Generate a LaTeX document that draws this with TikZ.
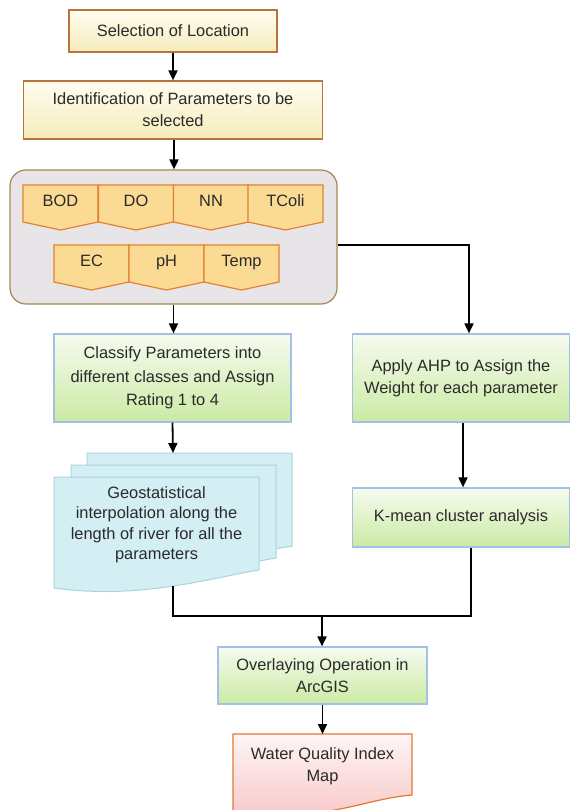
\documentclass[tikz,border=0pt]{standalone}
\usepackage{fontspec}
\setmainfont{Liberation Sans}
\usetikzlibrary{arrows.meta,calc}
\definecolor{txt}{HTML}{2A2A2A}
\definecolor{ybord}{HTML}{B8743A}
\definecolor{ytop}{HTML}{FFFDF0}
\definecolor{ybot}{HTML}{F5ECBC}
\definecolor{tfill}{HTML}{FBDB94}
\definecolor{tbord}{HTML}{E2822E}
\definecolor{grayfill}{HTML}{E7E5E8}
\definecolor{graybord}{HTML}{A5894F}
\definecolor{gtop}{HTML}{F6FBEF}
\definecolor{gbot}{HTML}{CBEAA4}
\definecolor{gbord}{HTML}{A4C0E4}
\definecolor{docfill}{HTML}{D3EFF3}
\definecolor{docbord}{HTML}{A9D4DE}
\definecolor{ptop}{HTML}{FFF5F5}
\definecolor{pbot}{HTML}{F8C9C9}
\definecolor{pbord}{HTML}{E07A35}
\newcommand\paramtag[4]{%
  \draw[tagshape] (#2,#3) -- ++(75,0) -- ++(0,37) -- ++(-37.5,8) -- ++(-37.5,-8) -- cycle;
  \node[tagtext] (#1) at (#2+37.5,#3+17) {#4};}
\newcommand\docsheet[2]{%
  \draw[docshape] (#1,#2) -- (#1+205,#2) -- (#1+205,#2+93)
    .. controls (#1+156,#2+101) and (#1+86,#2+123) .. (#1,#2+111) -- cycle;}
\begin{document}
\begin{tikzpicture}[x=1pt,y=-1pt,
  font=\fontsize{16.4}{22}\selectfont, text=txt,
  arr/.style={line width=1.8pt,-{Triangle[length=10pt,width=9pt]}},
  conn/.style={line width=1.8pt},
  ybox/.style={draw=ybord,line width=1.2pt,top color=ytop,bottom color=ybot,align=center,inner sep=0pt},
  gbox/.style={draw=gbord,line width=1.2pt,top color=gtop,bottom color=gbot,align=center,inner sep=0pt},
  tagshape/.style={draw=tbord,fill=tfill,line width=1.2pt,line join=miter},
  tagtext/.style={inner sep=0pt,text height=12pt,text depth=3.5pt},
  docshape/.style={draw=docbord,fill=docfill,line width=1pt}]
\useasboundingbox (0,0) rectangle (571,810);

% top boxes
\node[ybox,minimum width=208pt,minimum height=42pt] (box1) at (173,31) {Selection of Location};
\node[ybox,minimum width=299pt,minimum height=58pt] (box2) at (173,110)
  {Identification of Parameters to be\\selected};

% parameter group
\node[draw=graybord,fill=grayfill,rounded corners=16pt,line width=1.2pt,
      minimum width=327pt,minimum height=134pt] (params) at (173.5,237) {};
\paramtag{tbod}{23}{185}{BOD}
\paramtag{tdo}{98.5}{185}{DO}
\paramtag{tnn}{173.5}{185}{NN}
\paramtag{ttcoli}{248}{185}{TColi}
\paramtag{tec}{54}{245}{EC}
\paramtag{tph}{129}{245}{pH}
\paramtag{ttemp}{204}{245}{Temp}

% green boxes
\node[gbox,minimum width=237pt,minimum height=88pt,font=\fontsize{16.4}{23.5}\selectfont] (classify) at (172.5,378)
  {Classify Parameters into\\different classes and Assign\\Rating 1 to 4};
\node[gbox,minimum width=217pt,minimum height=88pt] (ahp) at (461,378)
  {Apply AHP to Assign the\\Weight for each parameter};
\node[gbox,minimum width=217pt,minimum height=59pt] (kmean) at (461,517.5)
  {K-mean cluster analysis};

% document stack
\docsheet{87}{453}
\docsheet{71}{465}
\docsheet{54}{477}
\node[align=center,inner sep=0pt,font=\fontsize{16.4}{20.5}\selectfont] (geo) at (156.5,525)
  {Geostatistical\\interpolation along the\\length of river for all the\\parameters};
\coordinate (geob) at (173,586);

% overlay + result
\node[gbox,minimum width=209pt,minimum height=57pt] (overlay) at (322.5,675.5)
  {Overlaying Operation in\\ArcGIS};
\draw[draw=pbord,line width=1.2pt,top color=ptop,bottom color=pbot]
  (233,734) -- (412,734) -- (412,795)
  .. controls (375,798) and (345,812) .. (300,814)
  -- (233,816) -- cycle;
\node[align=center,inner sep=0pt] (wqi) at (322.5,766) {Water Quality Index\\Map};

% connectors
\draw[arr] (box1.south) -- (box1.south |- box2.north);
\draw[arr] ($(box2.south)+(1,0)$) -- ($(box2.south |- params.north)+(1,0)$);
\draw[arr] (params.south) -- (params.south |- classify.north);
\draw[arr] ($(params.east)+(0,8)$) -| ($(ahp.north)+(8,0)$);
\draw[arr] (classify.south) -- (173,453);
\draw[arr] ($(ahp.south)+(2,0)$) -- ($(kmean.north)+(2,0)$);
\coordinate (j) at (322,616);
\draw[conn] (geob) |- (j);
\draw[conn] ($(kmean.south)+(10,0)$) |- (j);
\draw[arr] (j) -- (j |- overlay.north);
\draw[arr] (overlay.south) -- (overlay.south |- 0,734);
\end{tikzpicture}
\end{document}
